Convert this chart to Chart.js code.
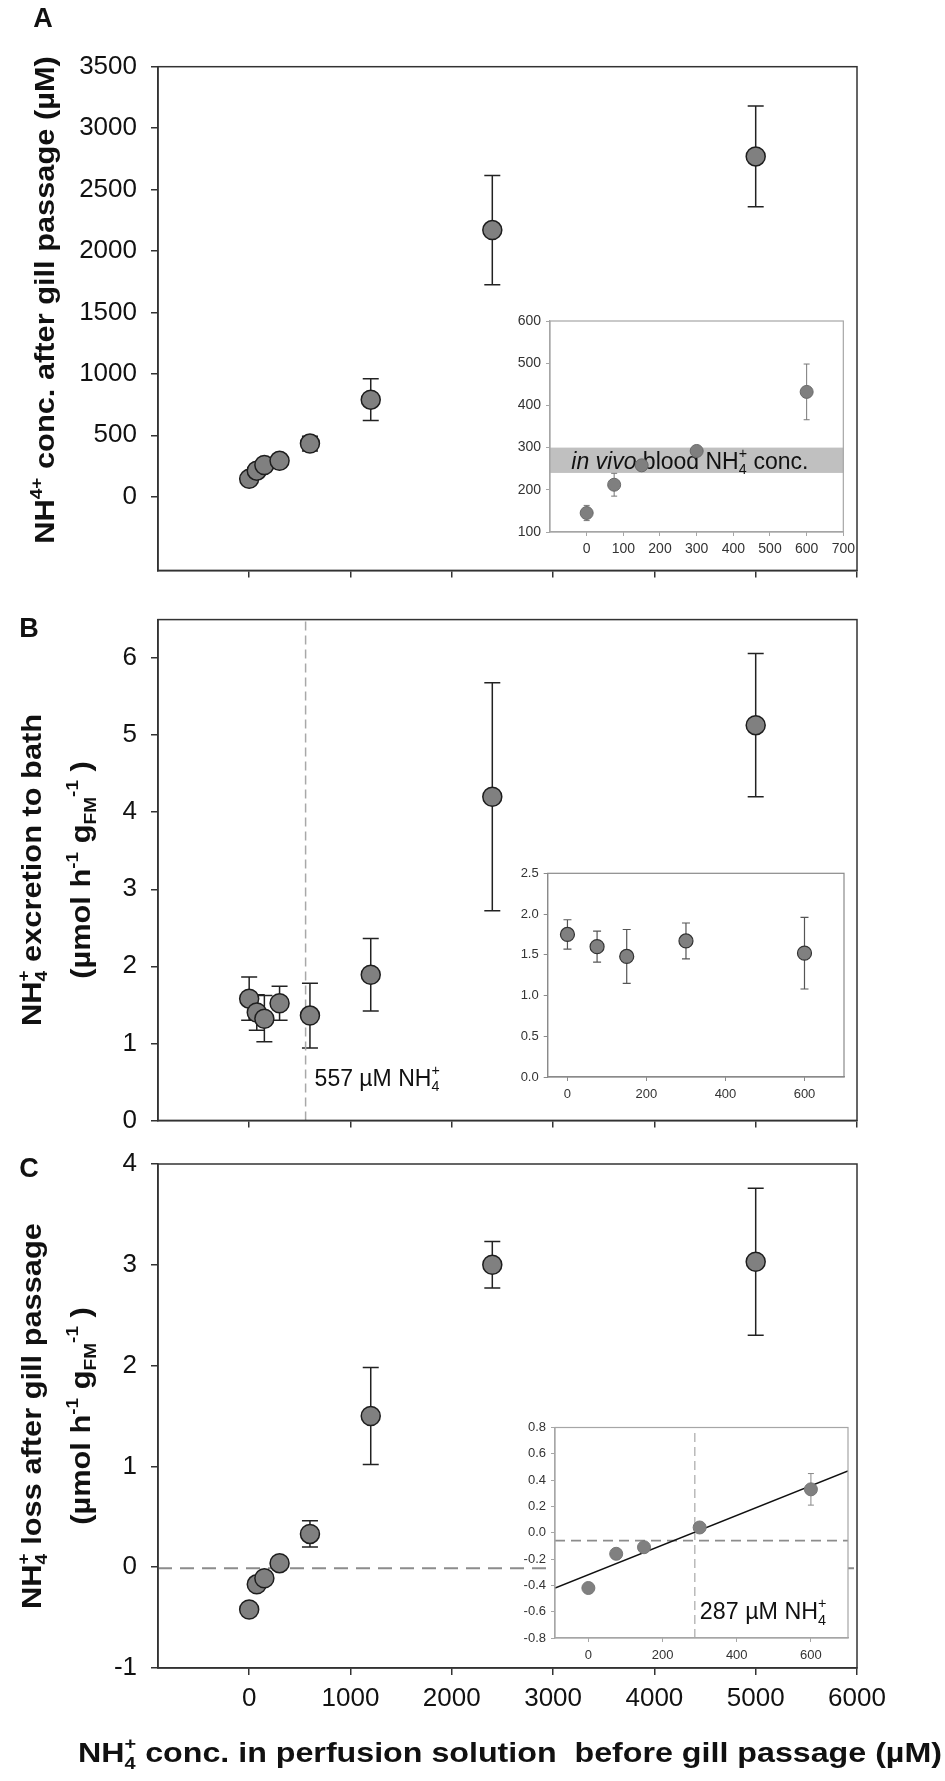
<!DOCTYPE html>
<html>
<head>
<meta charset="utf-8">
<script src="https://cdn.jsdelivr.net/npm/chart.js@4.4.1/dist/chart.umd.min.js"></script>
<style>
  html, body { margin: 0; padding: 0; background: #fff; }
  #fig { position: relative; width: 945px; height: 1781px; overflow: hidden; background: #fff; }
  .box { position: absolute; }
</style>
</head>
<body>
<div id="fig">
  <div class="box" style="left:0;top:0;width:945px;height:600px"><canvas id="mainA"></canvas></div>
  <div class="box" style="left:0;top:590px;width:945px;height:560px"><canvas id="mainB"></canvas></div>
  <div class="box" style="left:0;top:1130px;width:945px;height:651px"><canvas id="mainC"></canvas></div>
  <div class="box" style="left:500px;top:305px;width:360px;height:260px"><canvas id="insetA"></canvas></div>
  <div class="box" style="left:500px;top:855px;width:360px;height:255px"><canvas id="insetB"></canvas></div>
  <div class="box" style="left:505px;top:1410px;width:360px;height:258px"><canvas id="insetC"></canvas></div>
</div>
<script>
// perfusion concentrations (µM)
var conc = [0, 75, 150, 300, 600, 1200, 2400, 5000];
var insetConc = [0, 75, 150, 300, 600];

// A: NH4+ after gill passage (µM)
var afterGill = [145, 212, 258, 292, 432, 790, 2170, 2770];
var afterGillErr = [18, 27, 10, 10, 60, 170, 445, 410];
var insetA = [145, 212, 258, 292, 432];
var insetAErr = [18, 27, 8, 8, 66];
var bandLow = 240, bandHigh = 300;

// B: excretion to bath
var excretion = [1.58, 1.40, 1.32, 1.52, 1.36, 1.89, 4.20, 5.13];
var excretionErr = [0.28, 0.23, 0.30, 0.22, 0.42, 0.47, 1.48, 0.93];
var insetB = [1.75, 1.60, 1.48, 1.67, 1.52];
var insetBErr = [0.18, 0.19, 0.33, 0.22, 0.44];
var excretionMark = 557;

// C: loss after gill passage
var loss = [-0.42, -0.17, -0.11, 0.04, 0.33, 1.50, 3.00, 3.03];
var lossErr = [0.02, 0.02, 0.02, 0.02, 0.13, 0.48, 0.23, 0.73];
var insetC = [-0.42, -0.16, -0.11, 0.04, 0.33];
var insetCErr = [0.02, 0.02, 0.02, 0.02, 0.12];
var lossMark = 287;
var zeroLine = -0.01;
var insetZero = -0.06;
var fitX = [-90, 700];
var fitY = [-0.42, 0.47];

// ticks
var xTicksMain = [0, 1000, 2000, 3000, 4000, 5000, 6000];
var yTicksA = [0, 500, 1000, 1500, 2000, 2500, 3000, 3500];
var yTicksB = [0, 1, 2, 3, 4, 5, 6];
var yTicksC = [-1, 0, 1, 2, 3, 4];
var xTicksInsetA = [0, 100, 200, 300, 400, 500, 600, 700];
var yTicksInsetA = [100, 200, 300, 400, 500, 600];
var xTicksInset = [0, 200, 400, 600];
var yTicksInsetB = [0, 0.5, 1, 1.5, 2, 2.5];
var yTicksInsetC = [-0.8, -0.6, -0.4, -0.2, 0, 0.2, 0.4, 0.6, 0.8];

var SANS = "'Liberation Sans', Arial, sans-serif";
var NARROW = "'Liberation Sans Narrow', 'Liberation Sans', Arial, sans-serif";
Chart.defaults.font.family = SANS;
Chart.defaults.color = '#111';

function pts(xs, ys) { return xs.map(function (x, i) { return {x: x, y: ys[i]}; }); }
function setTicks(list) { return function (s) { s.ticks = list.map(function (v) { return {value: v}; }); }; }
function fixW(w) { return function (s) { s.width = w; }; }
function fixH(h) { return function (s) { s.height = h; }; }
function plain(v) { return String(v); }
function oneDecimal(v) { return v.toFixed(1); }

// rich text: strings, {t, i} runs, {sub, sup} scripts
function fontStr(o, size, italic) {
  return (italic ? 'italic ' : '') + (o.weight || 'normal') + ' ' + size + 'px ' + (o.family || SANS);
}
function drawRich(ctx, segs, x, y, o) {
  var s = o.size, ss = s * 0.62, items = [], w = 0;
  ctx.save();
  segs.forEach(function (g) {
    if (typeof g === 'string') g = {t: g};
    if (g.t !== undefined) {
      ctx.font = fontStr(o, s, g.i);
      items.push({txt: g.t, font: ctx.font, x: w, dy: 0});
      w += ctx.measureText(g.t).width;
    } else {
      ctx.font = fontStr(o, ss, false);
      var wa = g.sup ? ctx.measureText(g.sup).width : 0;
      var wb = g.sub ? ctx.measureText(g.sub).width : 0;
      if (g.sup) items.push({txt: g.sup, font: ctx.font, x: w, dy: -0.45 * s});
      if (g.sub) items.push({txt: g.sub, font: ctx.font, x: w, dy: 0.24 * s});
      w += Math.max(wa, wb);
    }
  });
  ctx.translate(x, y);
  if (o.rotate) ctx.rotate(o.rotate);
  if (o.sx) ctx.scale(o.sx, 1);
  var x0 = o.align === 'left' ? 0 : -w / 2;
  ctx.fillStyle = o.color || '#111';
  ctx.textAlign = 'left';
  ctx.textBaseline = 'alphabetic';
  items.forEach(function (it) { ctx.font = it.font; ctx.fillText(it.txt, x0 + it.x, 0.36 * s + it.dy); });
  ctx.restore();
}

// per-chart decorations: white plot fill, band, notes, error bars, frame, titles
function deco(cfg) {
  return {
    id: 'deco',
    beforeDraw: function (chart) {
      if (!cfg.fill) return;
      var a = chart.chartArea, ctx = chart.ctx;
      ctx.save();
      ctx.fillStyle = cfg.fill;
      ctx.fillRect(a.left, a.top, a.right - a.left, a.bottom - a.top);
      ctx.restore();
    },
    beforeDatasetsDraw: function (chart) {
      var ctx = chart.ctx, xs = chart.scales.x, ys = chart.scales.y, a = chart.chartArea;
      if (cfg.band) {
        var t = ys.getPixelForValue(cfg.band.high), b = ys.getPixelForValue(cfg.band.low);
        ctx.save();
        ctx.fillStyle = cfg.band.color;
        ctx.fillRect(a.left, t, a.right - a.left, b - t);
        ctx.restore();
      }
      (cfg.notes || []).forEach(function (n) {
        drawRich(ctx, n.segs, xs.getPixelForValue(n.x) + (n.dx || 0), ys.getPixelForValue(n.y), n);
      });
      chart.data.datasets.forEach(function (ds) {
        if (!ds.yErr) return;
        var e = ds.errStyle;
        ctx.save();
        ctx.strokeStyle = e.color;
        ctx.lineWidth = e.width;
        ds.data.forEach(function (p, i) {
          var px = xs.getPixelForValue(p.x);
          var top = ys.getPixelForValue(p.y + ds.yErr[i]);
          var bot = ys.getPixelForValue(p.y - ds.yErr[i]);
          ctx.beginPath();
          ctx.moveTo(px, top); ctx.lineTo(px, bot);
          ctx.moveTo(px - e.cap, top); ctx.lineTo(px + e.cap, top);
          ctx.moveTo(px - e.cap, bot); ctx.lineTo(px + e.cap, bot);
          ctx.stroke();
        });
        ctx.restore();
      });
    },
    afterDraw: function (chart) {
      var a = chart.chartArea, ctx = chart.ctx;
      if (cfg.frame) {
        ctx.save();
        ctx.strokeStyle = cfg.frame.color;
        ctx.lineWidth = cfg.frame.width;
        ctx.strokeRect(a.left, a.top, a.right - a.left, a.bottom - a.top);
        ctx.restore();
      }
      (cfg.titles || []).forEach(function (t) { drawRich(ctx, t.segs, t.x, t.y, t); });
    }
  };
}

var units = ['(µmol h', {sup: '-1'}, ' g', {sub: 'FM'}, {sup: '-1'}, ' )'];
var UP = -Math.PI / 2;
var TITLE = {size: 27, weight: 'bold', rotate: UP, sx: 1.14};
function title(segs, x, y) { return Object.assign({segs: segs, x: x, y: y}, TITLE); }

function mainPoints(ys, errs) {
  return {
    data: pts(conc, ys), yErr: errs,
    errStyle: {color: '#222', width: 1.5, cap: 8},
    pointRadius: 9.5, pointBackgroundColor: '#808080',
    pointBorderColor: '#1e1e1e', pointBorderWidth: 1.5, order: 0
  };
}

function mainOptions(cfg) {
  return {
    responsive: true, maintainAspectRatio: false, animation: false, events: [],
    layout: {padding: {top: cfg.padTop, right: 88, left: 0, bottom: 0}},
    plugins: {legend: {display: false}, tooltip: {enabled: false}},
    scales: {
      x: {
        type: 'linear', min: -900, max: 6000,
        afterBuildTicks: setTicks(xTicksMain), afterFit: fixH(cfg.xH),
        grid: {drawOnChartArea: false, drawTicks: true, tickLength: 7, color: '#333', lineWidth: 1.5},
        border: {display: true, color: '#333', width: 1.5},
        ticks: {display: !!cfg.xLabels, font: {size: 26}, color: '#111', padding: 8, maxRotation: 0,
                autoSkip: false, callback: plain}
      },
      y: {
        type: 'linear', min: cfg.yMin, max: cfg.yMax,
        afterBuildTicks: setTicks(cfg.yTicks), afterFit: fixW(158),
        grid: {drawOnChartArea: false, drawTicks: true, tickLength: 7, color: '#333', lineWidth: 1.5},
        border: {display: true, color: '#333', width: 1.5},
        ticks: {font: {size: 26}, color: '#111', padding: 14, autoSkip: false, callback: plain}
      }
    }
  };
}

// ---- panel A
new Chart(document.getElementById('mainA'), {
  type: 'scatter',
  data: {datasets: [mainPoints(afterGill, afterGillErr)]},
  options: mainOptions({padTop: 66.7, xH: 29, yMin: -600, yMax: 3500, yTicks: yTicksA}),
  plugins: [deco({
    frame: {color: '#333', width: 1.5},
    titles: [
      {segs: ['A'], x: 43, y: 17, size: 27, weight: 'bold'},
      title(['NH', {sup: '4+'}, ' conc. after gill passage (µM)'], 44, 300)
    ]
  })]
});

// ---- panel B
new Chart(document.getElementById('mainB'), {
  type: 'scatter',
  data: {datasets: [
    mainPoints(excretion, excretionErr),
    {data: [{x: excretionMark, y: 0}, {x: excretionMark, y: 6.5}], showLine: true, pointRadius: 0,
     borderColor: '#a8a8a8', borderWidth: 1.5, borderDash: [9, 5], fill: false, order: 1}
  ]},
  options: mainOptions({padTop: 28, xH: 28.3, yMin: 0, yMax: 6.5, yTicks: yTicksB}),
  plugins: [deco({
    frame: {color: '#333', width: 1.5},
    titles: [
      {segs: ['B'], x: 29, y: 37, size: 27, weight: 'bold'},
      title(['NH', {sub: '4', sup: '+'}, ' excretion to bath'], 31, 280),
      title(units, 80, 280)
    ],
    notes: [{segs: ['557 µM NH', {sub: '4', sup: '+'}], x: excretionMark, dx: 9, y: 0.56, size: 23, align: 'left'}]
  })]
});

// ---- panel C
new Chart(document.getElementById('mainC'), {
  type: 'scatter',
  data: {datasets: [
    mainPoints(loss, lossErr),
    {data: [{x: -900, y: zeroLine}, {x: 6000, y: zeroLine}], showLine: true, pointRadius: 0,
     borderColor: '#8c8c8c', borderWidth: 2, borderDash: [14, 8], fill: false, order: 1}
  ]},
  options: mainOptions({padTop: 34, xH: 113, yMin: -1, yMax: 4, yTicks: yTicksC, xLabels: true}),
  plugins: [deco({
    frame: {color: '#333', width: 1.5},
    titles: [
      {segs: ['C'], x: 29, y: 37, size: 27, weight: 'bold'},
      title(['NH', {sub: '4', sup: '+'}, ' loss after gill passage'], 31, 286),
      title(units, 80, 286),
      {segs: ['NH', {sub: '4', sup: '+'}, ' conc. in perfusion solution  before gill passage (µM)'],
       x: 510, y: 622, size: 28, weight: 'bold', sx: 1.15}
    ]
  })]
});

// ---- insets
function insetOptions(cfg) {
  return {
    responsive: true, maintainAspectRatio: false, animation: false, events: [],
    layout: {padding: {top: cfg.padTop, right: cfg.padRight, left: 0, bottom: 0}},
    plugins: {legend: {display: false}, tooltip: {enabled: false}},
    scales: {
      x: {
        type: 'linear', min: cfg.xMin, max: 700,
        afterBuildTicks: setTicks(cfg.xTicks), afterFit: fixH(cfg.xH),
        grid: {drawOnChartArea: false, drawTicks: true, tickLength: 4, color: cfg.frame, lineWidth: 1},
        border: {display: true, color: cfg.frame, width: 1.2},
        ticks: {font: {size: cfg.font, family: cfg.family}, color: '#333', padding: cfg.xPad, maxRotation: 0,
                autoSkip: false, callback: plain}
      },
      y: {
        type: 'linear', min: cfg.yMin, max: cfg.yMax,
        afterBuildTicks: setTicks(cfg.yTicks), afterFit: fixW(cfg.yW),
        grid: {drawOnChartArea: false, drawTicks: true, tickLength: 4, color: cfg.frame, lineWidth: 1},
        border: {display: true, color: cfg.frame, width: 1.2},
        ticks: {font: {size: cfg.font, family: cfg.family}, color: '#333', padding: 5, autoSkip: false,
                callback: cfg.fmt || plain}
      }
    }
  };
}

new Chart(document.getElementById('insetA'), {
  type: 'scatter',
  data: {datasets: [{
    data: pts(insetConc, insetA), yErr: insetAErr,
    errStyle: {color: '#777', width: 1, cap: 3},
    pointRadius: 6.5, pointBackgroundColor: '#7f7f7f', pointBorderColor: '#6a6a6a', pointBorderWidth: 1
  }]},
  options: insetOptions({
    padTop: 16, padRight: 15, xH: 33, yW: 50, xMin: -100, yMin: 100, yMax: 600,
    xTicks: xTicksInsetA, yTicks: yTicksInsetA, frame: '#a6a6a6', font: 14, xPad: 5
  }),
  plugins: [deco({
    fill: '#fff', frame: {color: '#a6a6a6', width: 1.2},
    band: {low: bandLow, high: bandHigh, color: '#c0c0c0'},
    notes: [{segs: [{t: 'in vivo', i: true}, ' blood NH', {sub: '4', sup: '+'}, ' conc.'],
             x: -42, y: (bandLow + bandHigh) / 2, size: 23, align: 'left'}]
  })]
});

new Chart(document.getElementById('insetB'), {
  type: 'scatter',
  data: {datasets: [{
    data: pts(insetConc, insetB), yErr: insetBErr,
    errStyle: {color: '#555', width: 1.2, cap: 4},
    pointRadius: 7, pointBackgroundColor: '#808080', pointBorderColor: '#333', pointBorderWidth: 1.2
  }]},
  options: insetOptions({
    padTop: 18.3, padRight: 16, xH: 33, yW: 47.7, xMin: -50, yMin: 0, yMax: 2.5,
    xTicks: xTicksInset, yTicks: yTicksInsetB, frame: '#8a8a8a', font: 13, xPad: 6, fmt: oneDecimal
  }),
  plugins: [deco({fill: '#fff', frame: {color: '#8a8a8a', width: 1.2}})]
});

new Chart(document.getElementById('insetC'), {
  type: 'scatter',
  data: {datasets: [
    {data: pts(insetConc, insetC), yErr: insetCErr,
     errStyle: {color: '#888', width: 1, cap: 3},
     pointRadius: 6.5, pointBackgroundColor: '#808080', pointBorderColor: '#777', pointBorderWidth: 1, order: 0},
    {data: pts(fitX, fitY), showLine: true, pointRadius: 0, borderColor: '#111', borderWidth: 1.6, fill: false, order: 1},
    {data: [{x: -90, y: insetZero}, {x: 700, y: insetZero}], showLine: true, pointRadius: 0,
     borderColor: '#8c8c8c', borderWidth: 1.6, borderDash: [10, 6], fill: false, order: 2},
    {data: [{x: lossMark, y: -0.8}, {x: lossMark, y: 0.8}], showLine: true, pointRadius: 0,
     borderColor: '#a8a8a8', borderWidth: 1.2, borderDash: [9, 5], fill: false, order: 3}
  ]},
  options: insetOptions({
    padTop: 17.5, padRight: 17, xH: 30, yW: 50, xMin: -90, yMin: -0.8, yMax: 0.8,
    xTicks: xTicksInset, yTicks: yTicksInsetC, frame: '#a6a6a6', font: 13, family: NARROW, xPad: 6, fmt: oneDecimal
  }),
  plugins: [deco({
    fill: '#fff', frame: {color: '#a6a6a6', width: 1.2},
    notes: [{segs: ['287 µM NH', {sub: '4', sup: '+'}], x: lossMark, dx: 5, y: -0.59, size: 24,
             family: NARROW, sx: 0.97, align: 'left'}]
  })]
});
</script>
</body>
</html>
